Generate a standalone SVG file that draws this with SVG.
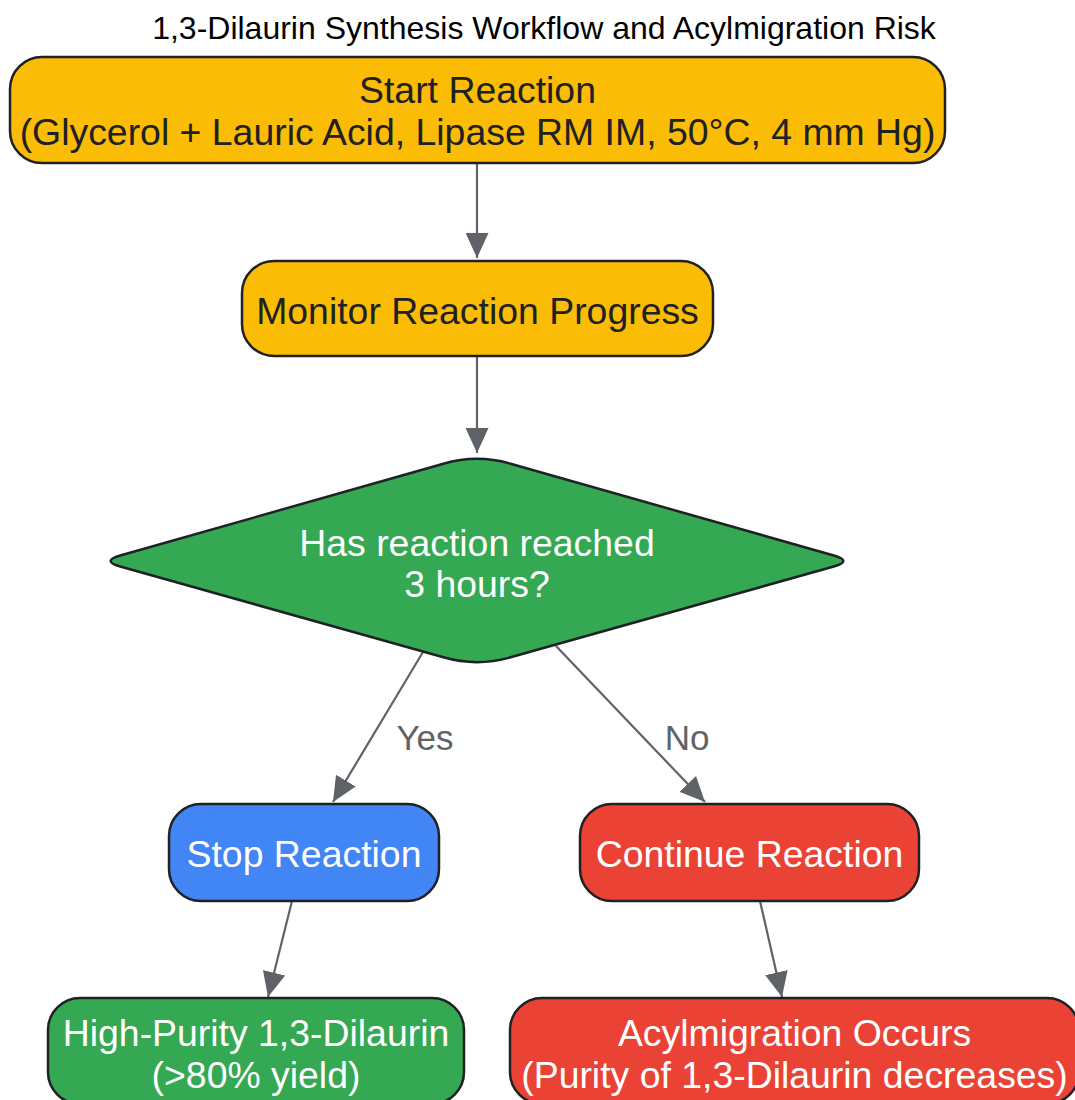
<svg xmlns="http://www.w3.org/2000/svg" width="1075" height="1100" viewBox="0 0 1075 1100">
<defs>
<style>
.node{stroke:#202124;stroke-width:2.5}
.yel{fill:#FBBC05}
.grn{fill:#34A853}
.blu{fill:#4285F4}
.red{fill:#EA4335}
text{font-family:"Liberation Sans",Arial,sans-serif;text-anchor:middle}
.t{font-size:37.4px}
.dark{fill:#202124}
.light{fill:#ffffff}
.edge{stroke:#5f6368;stroke-width:2.2;fill:none}
.lbl{font-size:35px;fill:#5f6368}
.title{font-size:32px;fill:#000000}
</style>
<marker id="arr" markerUnits="userSpaceOnUse" markerWidth="25" markerHeight="23" refX="25" refY="11.5" orient="auto" viewBox="0 0 25 23">
<path d="M0,0 L25,11.5 L0,23 z" fill="#5f6368"/>
</marker>
</defs>
<rect width="1075" height="1100" fill="#ffffff"/>
<text class="title" x="544" y="39">1,3-Dilaurin Synthesis Workflow and Acylmigration Risk</text>
<g id="edges">
<line class="edge" x1="477" y1="163" x2="477" y2="258" marker-end="url(#arr)"/>
<line class="edge" x1="477" y1="357" x2="477" y2="453" marker-end="url(#arr)"/>
<line class="edge" x1="423" y1="652" x2="333" y2="802" marker-end="url(#arr)"/>
<line class="edge" x1="556" y1="646" x2="705" y2="802" marker-end="url(#arr)"/>
<line class="edge" x1="292" y1="901" x2="268" y2="997" marker-end="url(#arr)"/>
<line class="edge" x1="760" y1="901" x2="782" y2="997" marker-end="url(#arr)"/>
<text class="lbl" x="425" y="750">Yes</text>
<text class="lbl" x="687" y="750">No</text>
</g>
<g id="start">
<rect class="node yel" x="10" y="57" width="935" height="106" rx="32"/>
<text class="t dark" x="477.5" y="103">Start Reaction</text>
<text class="t dark" x="477.5" y="145">(Glycerol + Lauric Acid, Lipase RM IM, 50°C, 4 mm Hg)</text>
</g>
<g id="monitor">
<rect class="node yel" x="242" y="261" width="471" height="95" rx="32"/>
<text class="t dark" x="477.5" y="324">Monitor Reaction Progress</text>
</g>
<g id="decision">
<path class="node grn" d="M443.4,463.7 Q477,454 510.6,463.7 L833.8,555.5 Q853,561 833.8,566.5 L510.6,657.3 Q477,667 443.4,657.3 L120.2,566.5 Q101,561 120.2,555.5 Z"/>
<text class="t light" x="477" y="556">Has reaction reached</text>
<text class="t light" x="477" y="597">3 hours?</text>
</g>
<g id="stop">
<rect class="node blu" x="169" y="804" width="270" height="97" rx="32"/>
<text class="t light" x="304" y="867">Stop Reaction</text>
</g>
<g id="continue">
<rect class="node red" x="580" y="804" width="339" height="97" rx="32"/>
<text class="t light" x="749.5" y="867">Continue Reaction</text>
</g>
<g id="highpurity">
<rect class="node grn" x="48" y="998" width="416" height="106" rx="32"/>
<text class="t light" x="256" y="1046">High-Purity 1,3-Dilaurin</text>
<text class="t light" x="256" y="1088">(&gt;80% yield)</text>
</g>
<g id="acylmigration">
<rect class="node red" x="510" y="998" width="569" height="106" rx="32"/>
<text class="t light" x="794.5" y="1046">Acylmigration Occurs</text>
<text class="t light" x="794.5" y="1088">(Purity of 1,3-Dilaurin decreases)</text>
</g>
</svg>
